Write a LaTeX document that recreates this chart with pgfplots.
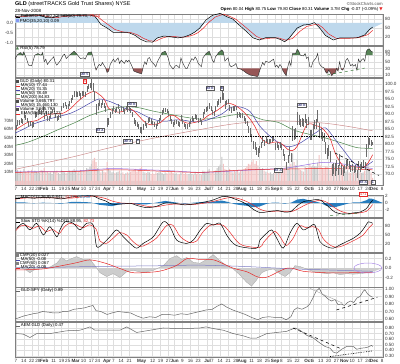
\documentclass[border=0pt]{standalone}
\usepackage{fontspec}
\setmainfont{Liberation Sans}
\newfontfamily\dejavu{DejaVu Sans}
\usepackage{pgfplots}
\usepackage{pgfplotstable}
\pgfplotsset{compat=1.18}
\usepgfplotslibrary{fillbetween}

\definecolor{scred}{RGB}{230,40,40}
\definecolor{scblue}{RGB}{70,70,170}
\definecolor{scgreen}{RGB}{70,130,70}
\definecolor{scpink}{RGB}{205,140,140}
\definecolor{volup}{RGB}{200,200,200}
\definecolor{voldn}{RGB}{242,195,195}
\definecolor{volpurp}{RGB}{150,110,225}
\definecolor{areablue}{RGB}{190,216,236}
\definecolor{macdblue}{RGB}{40,125,190}
\definecolor{rsigreen}{RGB}{85,130,85}
\definecolor{rsired}{RGB}{150,85,85}
\definecolor{cmfgray}{RGB}{205,205,205}

\pgfplotstableread{
i c e vu vd
2 85.2 0.8 0 9
3 85.4 0.8 11 0
4 87.0 0.9 13 0
5 87.2 0.8 10 0
6 87.8 0.8 12 0
7 87.6 0.8 0 9
8 89.6 1.0 14 0
9 88.9 0.8 0 11
10 88.0 0.8 0 10
11 86.6 0.9 0 12
12 86.8 0.8 9 0
13 86.4 1.0 0 13
14 86.4 0.8 0 10
15 89.6 0.9 12 0
16 89.9 0.8 11 0
17 90.5 0.8 9 0
18 90.7 0.8 10 0
19 90.5 0.8 0 13
20 91.7 0.9 12 0
21 89.2 1.0 0 15
22 90.2 0.8 10 0
23 88.4 0.8 0 11
24 88.5 0.8 9 0
25 89.6 0.8 10 0
26 91.0 0.8 8 0
27 91.3 0.8 11 0
28 89.6 0.8 0 10
29 88.5 0.8 0 12
30 88.9 0.8 9 0
31 89.6 0.8 8 0
32 91.8 0.9 13 0
33 92.8 0.8 11 0
34 93.3 0.8 10 0
35 92.3 0.8 0 9
36 92.5 0.8 10 0
37 93.5 0.8 12 0
38 94.4 0.8 11 0
39 95.5 0.9 12 0
40 96.6 0.9 14 0
41 96.7 0.9 12 0
42 96.4 0.8 0 10
43 96.9 0.8 11 0
44 96.0 0.9 0 13
45 96.8 0.8 12 0
46 96.8 0.8 0 11
47 96.4 0.8 0 12
48 98.4 1.0 15 0
49 99.1 0.9 14 0
50 99.5 0.9 16 0
51 99.7 1.8 20 0
52 98.7 1.5 0 24
53 95.9 1.6 0 27
54 91.6 1.8 0 22
55 92.6 1.2 15 0
56 93.5 1.0 12 0
57 92.8 0.9 0 10
58 93.9 0.9 12 0
59 92.9 0.9 0 11
60 91.5 1.0 0 10
61 87.1 1.6 0 22
62 87.4 1.2 14 0
63 89.5 1.0 12 0
64 90.8 0.9 10 0
65 91.8 0.8 11 0
66 91.0 0.8 0 9
67 91.6 0.8 10 0
68 92.6 0.8 11 0
69 90.8 0.9 0 12
70 91.9 0.8 9 0
71 91.6 0.8 0 10
72 90.9 0.8 0 8
73 92.0 0.8 9 0
74 91.5 0.8 0 10
75 91.9 0.8 9 0
76 91.1 0.8 0 11
77 89.9 0.9 0 12
78 87.6 1.1 0 13
79 87.0 0.9 0 14
80 86.6 0.8 0 11
81 85.9 0.8 0 12
82 84.5 1.0 0 15
83 84.4 1.1 0 17
84 85.7 0.9 11 0
85 86.9 0.9 10 0
86 86.1 0.8 0 9
87 87.9 0.9 11 0
88 88.2 0.8 10 0
89 87.5 0.8 0 8
90 87.0 0.8 0 9
91 86.6 0.8 0 8
92 85.8 0.8 0 10
93 86.8 0.8 9 0
94 87.8 0.8 10 0
95 88.9 0.8 11 0
96 90.4 0.9 9 0
97 91.1 0.8 8 0
98 91.3 0.8 10 0
99 91.0 0.8 0 9
100 90.2 0.8 0 8
101 88.5 0.9 0 10
102 87.4 0.8 0 11
103 86.6 0.8 0 9
104 87.1 0.8 8 0
105 87.3 0.8 9 0
106 86.7 0.8 0 7
107 86.5 0.8 0 8
108 88.6 1.0 10 0
109 87.6 0.8 0 9
110 86.3 0.8 0 8
111 85.9 0.8 0 9
112 85.9 0.8 0 7
113 86.5 0.8 8 0
114 87.6 0.8 9 0
115 88.4 0.8 8 0
116 88.0 0.8 0 7
117 89.1 0.8 10 0
118 88.7 0.8 0 8
119 87.8 0.8 0 9
120 88.0 0.8 8 0
121 87.1 0.8 0 7
122 89.6 1.0 12 0
123 90.8 0.9 11 0
124 91.4 0.8 10 0
125 91.7 0.8 12 0
126 92.6 0.9 14 0
127 91.8 0.8 0 9
128 90.6 0.8 0 10
129 90.1 0.8 0 11
130 91.8 0.9 12 0
131 93.3 0.9 15 0
132 94.0 0.9 17 0
133 94.7 0.9 19 0
134 96.2 1.4 28 0
135 95.9 1.2 0 20
136 93.0 1.2 0 14
137 93.8 0.9 13 0
138 94.1 0.9 12 0
139 91.9 1.0 0 14
140 91.3 0.9 0 11
141 91.7 0.8 10 0
142 91.7 0.8 0 12
143 92.0 0.8 11 0
144 89.8 1.0 0 13
145 89.9 0.8 10 0
146 89.4 0.8 0 12
147 89.5 0.9 13 0
148 88.4 0.9 0 12
149 87.7 0.9 0 15
150 86.8 0.9 0 17
151 84.9 1.2 0 20
152 84.0 1.2 0 19
153 81.9 1.3 0 22
154 79.6 1.4 0 25
155 79.3 1.2 0 20
156 77.6 1.3 0 23
157 77.1 1.4 0 18
158 78.1 1.1 16 0
159 79.6 1.0 13 0
160 81.3 1.1 15 0
161 80.3 1.0 0 12
162 81.6 0.9 11 0
163 80.9 0.9 0 10
164 80.9 0.8 0 9
165 81.0 0.8 10 0
166 81.6 0.8 8 0
167 81.9 0.8 9 0
168 79.2 1.2 0 15
169 79.6 0.9 12 0
170 78.8 0.9 0 11
171 79.6 0.9 10 0
172 79.0 1.0 0 12
173 77.2 1.1 0 13
174 75.4 1.2 0 15
175 72.6 1.4 0 18
176 75.0 1.4 16 0
177 77.5 1.5 17 0
178 75.6 1.5 0 20
179 83.5 2.4 32 0
180 83.2 1.8 0 22
181 83.4 1.8 18 0
182 88.5 2.2 25 0
183 88.0 1.6 0 14
184 86.9 1.4 0 13
185 87.3 1.3 12 0
186 87.0 1.3 0 11
187 88.4 1.5 16 0
188 86.9 1.5 0 15
189 87.6 1.4 14 0
190 83.0 1.8 0 20
191 82.9 1.6 0 16
192 84.8 1.8 18 0
193 86.5 1.6 17 0
194 86.7 1.6 16 0
195 89.2 2.0 21 0
196 84.5 2.4 0 30
197 83.4 1.8 0 18
198 82.5 1.6 0 15
199 82.2 1.6 0 14
200 78.5 2.0 0 17
201 76.9 1.8 0 16
202 77.8 1.7 14 0
203 75.9 1.8 0 13
204 71.2 2.0 0 18
205 71.9 1.9 20 0
206 71.5 2.2 0 16
207 72.7 1.8 15 0
208 71.3 1.8 0 12
209 74.6 2.0 18 0
210 71.3 1.8 0 14
211 70.8 1.6 0 13
212 71.6 1.4 12 0
213 73.2 1.4 11 0
214 73.8 1.3 13 0
215 73.0 1.3 0 10
216 71.8 1.3 0 9
217 72.1 1.2 11 0
218 71.6 1.2 0 10
219 71.9 1.2 12 0
220 69.9 1.4 0 9
221 72.9 1.5 14 0
222 72.0 1.3 0 11
223 72.9 1.2 9 0
224 73.2 1.3 10 0
225 72.6 1.3 0 12
226 77.9 2.2 21 0
227 80.6 1.8 18 0
228 80.9 1.2 14 0
229 80.4 1.0 0 10
230 80.3 0.5 0 3.7
}\daily

\pgfplotstableread{
x v
2 10.5
20 11
40 11.5
55 13.5
65 14.5
80 13.5
100 12
120 10
135 11
150 12.5
160 13.5
175 15
185 18
198 21.5
210 20
220 17
230 14.5
}\volma

\pgfplotstableread{
x v
2 10
20 10.5
40 11
55 12.5
65 13
80 12.5
100 11
120 10
135 11.5
150 13
160 13.5
180 14
200 14.5
215 14
230 13
}\volema

\pgfplotsset{
  panel/.style={
    scale only axis, width=368pt, xmin=2.4, xmax=236.6,
    xtick={3,8,13,17,21,27,32,36,41,46,51,55,61,65,70,75,83,90,95,100,104,109,114,119,125,128,133,138,143,147,153,158,163,168,172,177,182,189,192,197,202,207,212,217,222,227,231,236},
    xticklabels={},
    xmajorgrids, ymajorgrids,
    major grid style={draw=black!13, line width=0.3pt},
    axis line style={draw=black!50, line width=0.4pt},
    major tick length=0pt,
    yticklabel pos=right,
    ticklabel style={font=\fontsize{4.6}{5}\selectfont, text=black!80},
    yticklabel style={xshift=-1.5pt},
    /pgf/number format/assume math mode=true,
    clip mode=individual,
    set layers,
  },
  datelabels/.style={xticklabels={7,14,22,28,\textbf{Feb},11,19,25,\textbf{Mar},10,17,24,\textbf{Apr},7,14,21,\textbf{May},12,19,27,\textbf{Jun},9,16,23,\textbf{Jul},7,14,21,28,\textbf{Aug},11,18,25,\textbf{Sep},8,15,22,\textbf{Oct},6,13,20,27,\textbf{Nov},10,17,24,\textbf{Dec},8},
     xticklabel style={yshift=1.5pt}},
  leftlab/.style={scale only axis, width=368pt, xmin=2.4, xmax=236.6, xtick=\empty,
     axis line style={draw=none}, major tick length=0pt, yticklabel pos=left,
     ticklabel style={font=\fontsize{4.6}{5}\selectfont, text=black!80},
     yticklabel style={xshift=1.5pt}},
}
\tikzset{
  leg/.style={font=\fontsize{4.3}{5}\selectfont, anchor=north west, inner sep=0.6pt, align=left},
  ann/.style={draw=black!65, fill=white, font=\fontsize{3.8}{4}\selectfont, inner sep=0.7pt, text=blue!35!black},
}

\begin{document}
\begin{tikzpicture}

% header
\node[anchor=west, font=\fontsize{5.5}{6}\selectfont, inner sep=0] at (15pt,359.5pt) {\textbf{GLD} (streetTRACKS Gold Trust Shares) NYSE};
\node[anchor=west, font=\fontsize{4.5}{5}\selectfont, inner sep=0] at (15pt,353.5pt) {28-Nov-2008};
\node[anchor=east, font=\fontsize{4.3}{5}\selectfont, inner sep=0, text=black!70] at (383pt,360.5pt) {\copyright StockCharts.com};
\node[anchor=east, font=\fontsize{4.3}{5}\selectfont, inner sep=0] at (383pt,355pt) {\textbf{Open} 80.04 \textbf{High} 80.75 \textbf{Low} 79.80 \textbf{Close} 80.31 \textbf{Volume} 3.7M \textbf{Chg} -0.07 (-0.09\%) \textcolor{scred}{\dejavu ▼}};

% ---------- P1 ----------
\begin{axis}[panel, at={(15pt,319pt)}, anchor=south west, height=31pt,
  ymin=-6.7, ymax=96.7, ytick={20,50,80}]
\addplot[name path=pmo, draw=none, smooth] coordinates {(2,86)(10,90)(18,91)(22,86)(26,85)(30,88)(40,91)(50,92)(53,90)(55,80)(57,66)(61,52)(65,40)(70,37)(75,35)(79,27)(82,17)(86,8)(90,7)(93,16)(97,22)(100,22)(106,18)(110,20)(114,27)(117,36)(120,48)(124,72)(128,88)(133,95)(137,88)(141,79)(145,62)(150,40)(154,22)(158,14)(162,18)(168,18)(172,12)(174,8)(177,17)(182,45)(186,57)(190,60)(193,65)(196,52)(200,28)(205,14)(209,17)(215,18)(220,18)(225,26)(228,42)(230,50)};
\addplot[name path=pmoz, draw=none] coordinates {(2.4,66.7) (236.6,66.7)};
\addplot[fill=areablue, draw=none] fill between[of=pmo and pmoz];
\addplot[scred, line width=0.5pt] coordinates {(2,86)(12,90)(20,92)(24,87)(28,84)(33,88)(42,92)(52,93)(55,88)(58,75)(62,60)(66,45)(71,37)(76,35)(80,28)(84,16)(88,7)(92,6)(95,14)(99,21)(103,22)(108,19)(112,21)(116,27)(119,35)(122,48)(126,70)(130,87)(135,96)(139,89)(143,79)(147,62)(152,40)(156,22)(160,13)(165,16)(170,17)(175,9)(179,15)(184,40)(188,55)(192,60)(195,63)(198,52)(202,30)(207,15)(211,15)(217,16)(222,19)(227,28)(230,42)};
\addplot[black, line width=0.5pt] coordinates {(2,88)(10,92)(18,93)(22,85)(26,84)(30,90)(40,93)(50,93)(53,90)(55,77)(57,62)(61,50)(65,35)(70,35)(75,34)(79,25)(82,13)(86,4)(90,3)(93,17)(97,23)(100,22)(106,17)(110,20)(114,28)(117,37)(120,50)(124,77)(128,92)(133,99)(137,88)(141,80)(145,60)(150,37)(154,17)(158,10)(162,18)(168,18)(172,10)(174,4)(177,17)(182,50)(186,60)(190,62)(193,68)(196,52)(200,25)(205,10)(209,17)(215,17)(220,17)(225,27)(228,45)(230,53)};
\node[leg] at (rel axis cs:0,1) {\textcolor{black}{\rule[0.6pt]{4pt}{0.5pt}} Full STO \%K(60,20) \%D(10) 79.73, \textcolor{scred}{79.24}\\[-0.5pt]\textcolor{areablue!70!blue}{\rule{3pt}{3pt}} PMO(35,20,10) 0.09};
\end{axis}
\begin{axis}[leftlab, at={(15pt,319pt)}, anchor=south west, height=31pt,
  ymin=-1.13, ymax=0.46, ytick={-1,-0.5,0,0.5}, yticklabels={-1.0,-0.5,0.0,0.5}]
\addplot[draw=none] coordinates {(3,0)};
\end{axis}

% ---------- P2 RSI ----------
\begin{axis}[panel, at={(15pt,287pt)}, anchor=south west, height=31pt,
  ymin=4, ymax=98, ytick={10,30,50,70,80}, unbounded coords=jump]
\addplot[fill=rsigreen, draw=none] coordinates {(3.76,70)(4,72)(6,78)(7,70) (7.01,nan) (7,70)(8,80)(8.8,70) (9,nan) (15,70)(17,75)(19,70) (19.5,nan) (19,70)(20,78)(20.3,70) (21,nan) (33,70)(34,73)(34.2,70) (35,nan) (37,70)(39,78)(40,82)(42,72)(42.3,70) (43,nan) (48.2,70)(49,78)(51,80)(51.67,70) (52,nan) (95.2,70)(96,78)(98,82)(99,72)(99.17,70) (100,nan) (123.2,70)(124,75)(126,82)(127,70) (128,nan) (130.8,70)(132,78)(134,86)(135,80)(135.36,70) (136,nan) (178.86,70)(179,75)(181,75)(182,88)(183,82)(184,70) (185,nan) (186.29,70)(187,75)(187.33,70) (188,nan) (194.6,70)(195,75)(195.17,70) (196,nan) (225.6,70)(226,82)(227,88)(228,89)(229,82)(230,80)(230,70)};
\addplot[fill=rsired, draw=none] coordinates {(53.7,30)(54,25)(54.5,30) (55,nan) (60.14,30)(61,18)(62,22)(62.4,30) (63,nan) (77.38,30)(78,22)(80,18)(82,15)(83,14)(83.76,30) (84,nan) (102.67,30)(103,28)(103.29,30) (104,nan) (144,30)(146,28)(148,22)(150,15)(152,10)(154,8)(156,6)(157,6)(158,22)(158.6,30) (159,nan) (172.38,30)(173,22)(174,15)(175,8)(175.81,30) (176,nan) (199.17,30)(200,20)(201,15)(202,25)(203,18)(204,8)(205,15)(206,14)(207,30)(208,22)(208.29,30) (209,nan) (209.9,30)(210,28)(211,25)(211.5,30) (212,nan) (219.7,30)(220,25)(220.15,30)};
\addplot[black!80, line width=0.45pt] coordinates {(2,55)(4,72)(6,78)(7,70)(8,80)(10,55)(11,40)(13,38)(15,70)(17,75)(19,70)(20,78)(21,50)(22,58)(23,42)(25,55)(27,65)(28,48)(29,40)(31,52)(33,70)(34,73)(35,60)(37,70)(39,78)(40,82)(42,72)(44,60)(46,62)(47,58)(49,78)(51,80)(52,65)(53,42)(54,25)(55,35)(56,42)(57,38)(58,48)(60,32)(61,18)(62,22)(63,42)(65,58)(66,50)(68,62)(69,45)(70,55)(72,45)(73,55)(74,50)(75,55)(76,45)(77,35)(78,22)(80,18)(82,15)(83,14)(84,35)(85,50)(86,42)(87,60)(88,63)(89,52)(91,42)(92,35)(93,50)(95,68)(96,78)(98,82)(99,72)(100,60)(101,40)(103,28)(104,35)(105,40)(107,32)(108,62)(109,48)(111,30)(112,30)(113,42)(115,60)(116,55)(117,65)(118,58)(119,45)(121,35)(122,62)(124,75)(126,82)(127,70)(128,55)(129,48)(130,65)(132,78)(134,86)(135,80)(136,52)(137,58)(138,62)(139,40)(140,35)(142,40)(143,45)(144,30)(146,28)(148,22)(150,15)(152,10)(154,8)(156,6)(157,6)(158,22)(160,48)(161,40)(162,52)(164,48)(166,55)(167,58)(168,35)(169,40)(170,32)(171,42)(172,35)(173,22)(174,15)(175,8)(176,35)(177,52)(178,38)(179,75)(181,75)(182,88)(183,82)(184,70)(186,68)(187,75)(188,60)(189,65)(190,35)(191,34)(192,50)(194,62)(195,75)(196,45)(197,38)(198,34)(199,32)(200,20)(201,15)(202,25)(203,18)(204,8)(205,15)(206,14)(207,30)(208,22)(209,50)(210,28)(211,25)(212,35)(213,55)(214,60)(215,50)(216,38)(217,42)(218,37)(219,42)(220,25)(221,58)(222,48)(223,56)(224,60)(225,52)(226,82)(227,88)(228,89)(229,82)(230,80)};
\addplot[scgreen, dashed, line width=0.5pt] coordinates {(201,10) (225,31)};
\node[leg] at (rel axis cs:0,1) {\textcolor{rsigreen}{\dejavu ▲} RSI(5) 78.79};
\end{axis}

% ---------- P3 main ----------
\begin{axis}[panel, datelabels, at={(15pt,179pt)}, anchor=south west, height=107pt,
  ymin=66.33, ymax=102, ytick={70,72.5,75,77.5,80,82.5,85,87.5,90,92.5,95,97.5,100},
  yticklabels={70.0,72.5,75.0,77.5,80.0,82.5,85.0,87.5,90.0,92.5,95.0,97.5,100.0}]
\addplot[ybar, bar width=1.05pt, bar shift=0pt, fill=volup, draw=none] table[x=i, y expr=67.67+0.2867*\thisrow{vu}] {\daily};
\addplot[ybar, bar width=1.05pt, bar shift=0pt, fill=voldn, draw=none] table[x=i, y expr=67.67+0.2867*\thisrow{vd}] {\daily};
\addplot[volpurp, line width=0.5pt, smooth] table[x=x, y expr=67.67+0.2867*\thisrow{v}] {\volma};
\addplot[scred, line width=0.5pt, smooth] table[x=x, y expr=67.67+0.2867*\thisrow{v}] {\volema};
\addplot[scpink, line width=0.5pt, smooth] coordinates {(2,71.5)(20,73.5)(40,75.8)(60,78.4)(80,80.8)(100,82.9)(120,84.8)(140,86.6)(160,87.6)(180,87.6)(200,86.9)(215,85.8)(230,84.4)};
\addplot[scgreen, line width=0.5pt, smooth] coordinates {(2,79.5)(10,80.5)(20,82.5)(30,84.8)(40,87.0)(50,89.5)(60,91.2)(70,92.3)(80,92.2)(90,91.0)(100,90.0)(110,89.0)(120,88.3)(130,88.6)(140,89.6)(150,89.9)(160,88.1)(170,87.2)(180,84.6)(190,83.2)(200,82.0)(210,80.4)(220,78.8)(230,78.5)};
\addplot[scblue, line width=0.5pt, smooth] coordinates {(2,83.5)(8,85.0)(14,86.6)(20,87.7)(26,88.6)(32,89.4)(38,90.3)(44,91.8)(50,93.6)(56,95.0)(62,94.3)(68,93.0)(74,91.5)(80,90.8)(86,89.2)(92,88.0)(98,87.6)(104,88.0)(110,87.9)(116,87.4)(122,87.6)(128,88.6)(134,90.0)(140,92.2)(146,92.3)(152,90.8)(158,86.1)(164,82.9)(170,80.5)(176,79.1)(182,79.8)(188,81.7)(194,83.8)(200,85.4)(206,81.6)(212,77.6)(218,73.7)(224,72.3)(230,74.2)};
\addplot[scred, line width=0.55pt, smooth] coordinates {(2,84.6)(5,85.5)(8,86.5)(11,87.3)(14,87.6)(17,88.0)(20,89.0)(23,89.7)(26,90.0)(29,90.1)(32,90.1)(35,90.8)(38,91.9)(41,93.5)(44,94.9)(47,96.2)(50,97.1)(53,97.5)(56,96.5)(59,95.1)(62,91.9)(65,91.1)(68,90.6)(71,90.9)(74,91.6)(77,91.4)(80,90.0)(83,88.3)(86,86.9)(89,86.4)(92,86.6)(95,87.1)(98,88.6)(101,89.5)(104,89.4)(107,88.2)(110,87.3)(113,86.9)(116,87.1)(119,87.5)(122,88.1)(125,89.4)(128,90.2)(131,91.2)(134,92.3)(137,93.4)(140,93.4)(143,92.7)(146,91.6)(149,90.1)(152,88.3)(155,85.9)(158,82.7)(161,80.9)(164,80.2)(167,80.6)(170,80.6)(173,79.7)(176,78.2)(179,77.8)(182,79.2)(185,82.9)(188,86.3)(191,86.7)(194,86.1)(197,85.6)(200,84.1)(203,81.8)(206,77.2)(209,74.2)(212,72.3)(215,72.4)(218,72.4)(221,72.2)(224,72.1)(227,73.6)(230,76.4)};
\addplot[draw=none, mark=none, error bars/.cd, y dir=both, y explicit, error mark=none,
  error bar style={draw=black!58, line width=0.3pt, solid}] table[x=i, y=c, y error=e] {\daily};
\addplot[black, densely dotted, line width=0.7pt] coordinates {(2.4,82.6) (236.6,82.6)};
\addplot[black, dashed, line width=0.55pt] coordinates {(206,77) (234,69.5)};
\node[leg] at (rel axis cs:0,0.99) {\textcolor{black!70}{\rule{3pt}{3pt}} GLD (Daily) 80.31\\[-1pt]
\textcolor{scred}{\rule[0.6pt]{4pt}{0.5pt}} MA(10) 77.44\\[-1pt]
\textcolor{scblue}{\rule[0.6pt]{4pt}{0.5pt}} MA(20) 74.35\\[-1pt]
\textcolor{scgreen}{\rule[0.6pt]{4pt}{0.5pt}} MA(50) 78.49\\[-1pt]
\textcolor{scpink}{\rule[0.6pt]{4pt}{0.5pt}} MA(200) 84.83\\[-1pt]
\textcolor{black!70}{\rule{3pt}{3pt}} Volume 3,665,797\\[-1pt]
\textcolor{volpurp}{\rule[0.6pt]{4pt}{0.5pt}} MA(50) 15,460,130\\[-1pt]
\textcolor{black!70}{\rule{3pt}{3pt}} Volume 3,665,797\\[-1pt]
\textcolor{scred}{\rule[0.6pt]{4pt}{0.5pt}} EMA(50) 15,519,123};
\node[ann] at (axis cs:46.9,103.4) {alt 5};
\node[ann, text=scred, draw=scred] at (axis cs:46.9,101) {5};
\node[ann] at (axis cs:76.8,93.3) {alt b};
\node[ann] at (axis cs:56.5,84.7) {alt a};
\node[ann] at (axis cs:74.3,81) {alt a};
\node[ann] at (axis cs:80.7,81) {c};
\node[ann] at (axis cs:126.5,98.7) {alt b};
\node[ann] at (axis cs:134.1,98.7) {b};
\node[ann] at (axis cs:185,93) {alt b};
\node[ann] at (axis cs:169.8,71.3) {alt a};
\node[ann] at (axis cs:223.9,67.2) {alt a};
\node[ann] at (axis cs:230.2,67.2) {1};
\end{axis}
\begin{axis}[leftlab, at={(15pt,179pt)}, anchor=south west, height=107pt,
  ymin=-4.65, ymax=119.8, ytick={10,20,30,40,50,60,70}, yticklabels={10M,20M,30M,40M,50M,60M,70M}]
\addplot[draw=none] coordinates {(3,0)};
\end{axis}

% ---------- P4 MACD ----------
\begin{axis}[panel, at={(15pt,147pt)}, anchor=south west, height=22pt,
  ymin=-4.0, ymax=2.3, ytick={-2,0,2}]
\addplot[name path=hist, draw=none] coordinates {(2,0.2)(8,0.2)(14,-0.1)(20,0.1)(26,0)(32,-0.2)(38,0.3)(44,0.3)(50,0.2)(53,-0.1)(56,-0.5)(60,-0.7)(64,-0.9)(70,-0.3)(76,0)(80,-0.4)(86,-0.4)(92,0.1)(98,0.6)(104,0.2)(110,-0.2)(116,0.1)(122,0.3)(128,0.4)(134,0.7)(138,0.3)(142,-0.3)(146,-0.6)(150,-0.8)(154,-1.2)(158,-1.0)(162,-0.3)(166,0.1)(170,0.1)(174,-0.2)(178,0.1)(182,1.0)(186,1.2)(190,0.7)(194,0.4)(197,0)(200,-0.7)(203,-1.1)(206,-1.2)(210,-0.7)(214,-0.2)(218,0.2)(222,0.2)(226,0.8)(228,1.3)(230,1.2)};
\addplot[name path=z0, draw=none] coordinates {(2.4,0) (236.6,0)};
\addplot[fill=macdblue, draw=none] fill between[of=hist and z0];
\addplot[scred, line width=0.5pt, smooth] coordinates {(2,1.1)(8,1.4)(14,1.5)(20,1.5)(26,1.5)(32,1.4)(38,1.4)(44,1.7)(50,1.9)(53,2.0)(56,1.7)(60,1.3)(64,0.6)(70,0.0)(76,-0.1)(80,-0.3)(86,-0.9)(92,-1.1)(98,-0.6)(104,-0.3)(110,-0.3)(116,-0.4)(122,-0.1)(128,0.4)(134,1.1)(138,1.5)(142,1.5)(146,1.1)(150,0.4)(154,-0.6)(158,-1.7)(162,-2.3)(166,-2.4)(170,-2.3)(174,-2.4)(178,-2.5)(182,-1.8)(186,-0.8)(190,0.0)(194,0.6)(197,0.8)(200,0.4)(203,-0.4)(206,-1.4)(210,-2.4)(214,-2.9)(218,-3.0)(222,-2.8)(226,-2.4)(228,-1.6)(230,-0.4)};
\addplot[black, line width=0.5pt, smooth] coordinates {(2,1.3)(8,1.6)(14,1.4)(20,1.6)(26,1.5)(32,1.2)(38,1.7)(44,2.0)(50,2.1)(53,1.9)(56,1.2)(60,0.6)(64,-0.3)(70,-0.3)(76,-0.1)(80,-0.7)(86,-1.3)(92,-1.0)(98,0.0)(104,-0.1)(110,-0.5)(116,-0.3)(122,0.2)(128,0.8)(134,1.8)(138,1.8)(142,1.2)(146,0.5)(150,-0.4)(154,-1.8)(158,-2.7)(162,-2.6)(166,-2.3)(170,-2.2)(174,-2.6)(178,-2.4)(182,-0.8)(186,0.4)(190,0.7)(194,1.0)(197,0.8)(200,-0.3)(203,-1.5)(206,-2.6)(210,-3.1)(214,-3.1)(218,-2.8)(222,-2.6)(226,-1.6)(228,-0.3)(230,0.8)};
\addplot[scgreen, dashed, line width=0.5pt] coordinates {(203,-3.6) (222,-2.9)};
\node[leg] at (rel axis cs:0,1.0) {\textcolor{black}{\rule[0.6pt]{4pt}{0.5pt}} MACD(12,26,9) 0.841, \textcolor{scred}{-0.376}, \textcolor{macdblue}{1.218}};
\node[ann, text=scred, draw=scred] at (axis cs:224,2.4) {4?1};
\end{axis}

% ---------- P5 Slow STO ----------
\begin{axis}[panel, at={(15pt,112pt)}, anchor=south west, height=34pt,
  ymin=-6.7, ymax=106.7, ytick={20,50,80}]
\addplot[scred, line width=0.5pt, smooth] coordinates {(3,65)(6,80)(9.5,82)(13.5,72)(18,80)(22,62)(26.5,68)(30.5,55)(33,72)(36.5,88)(41.5,84)(45.5,74)(50,84)(54,70)(56.5,30)(60.5,22)(65,40)(69,58)(73.5,50)(77.5,28)(82,12)(86,18)(92.5,40)(99,82)(103,82)(107.5,45)(113.5,25)(118,30)(122,60)(126.5,82)(131,85)(135,82)(139,60)(143.5,30)(147.5,15)(158,8)(160.5,25)(164.5,48)(168,62)(171,45)(175,15)(179.5,40)(183.5,80)(188,74)(192,78)(195.5,68)(198.5,38)(203,16)(207,9)(211,14)(215.5,25)(219.7,36)(224,50)(227,70)(230,86)};
\addplot[black, line width=0.5pt, smooth] coordinates {(3.4,72)(7.7,89)(11.9,67)(16.2,89)(20.4,50)(24.6,78)(28.9,44)(31,67)(34.2,94)(39.5,89)(43.7,67)(48,89)(52.2,83)(54.4,11)(58.6,22)(62.8,44)(67.1,67)(71.3,44)(75.6,22)(79.8,6)(84,22)(90.4,44)(96.8,94)(101,78)(105.3,33)(111.7,22)(115.9,33)(120.1,65)(124.4,89)(128.6,83)(132.9,89)(137.1,50)(141.3,22)(145.6,11)(156.2,6)(158.3,33)(162.6,56)(165.8,67)(169,39)(173.1,6)(177.4,56)(181.7,89)(185.9,67)(190.1,78)(193.3,83)(196.5,28)(200.8,11)(205,6)(209.2,17)(213.5,28)(217.7,39)(222,56)(225.2,78)(227.3,94)(230,89)};
\node[leg] at (rel axis cs:0,0.97) {\textcolor{black}{\rule[0.6pt]{4pt}{0.5pt}} Slow STO \%K(14) \%D(3) 88.95, \textcolor{scred}{82.73}};
\end{axis}

% ---------- P6 CMF ----------
\begin{axis}[panel, at={(15pt,77pt)}, anchor=south west, height=34pt,
  ymin=-0.4, ymax=0.316, ytick={-0.2,0,0.2}, yticklabels={-0.2,0.0,0.2}]
\addplot[name path=cmf, draw=black!35, line width=0.3pt] coordinates {(1,0.0)(5.5,0.02)(9.8,-0.05)(11.9,-0.1)(14,-0.05)(18.3,0.0)(24.6,0.02)(28.9,0.1)(32,0.22)(35.3,0.15)(38.5,0.2)(41.6,0.24)(45.8,0.18)(50.1,0.18)(53.3,0.05)(56.5,-0.1)(60.7,-0.18)(64.9,-0.12)(69.2,-0.2)(73.5,-0.08)(77.7,-0.05)(84,-0.1)(90.4,-0.05)(96.8,0.05)(101,0.2)(105.3,0.26)(108.5,0.18)(111.7,0.22)(115.9,0.12)(120.1,0.1)(124.4,0.18)(128.6,0.28)(132.9,0.15)(137.1,0.05)(141.3,-0.02)(145.6,-0.15)(149.8,-0.3)(153,-0.38)(156.2,-0.25)(159.4,-0.1)(162.6,-0.05)(166.8,-0.02)(171,-0.12)(174.2,-0.18)(177.4,-0.1)(180.6,0.05)(183.8,0.03)(188,-0.02)(192.3,-0.08)(196.5,-0.1)(200.8,-0.12)(205,-0.1)(209.2,-0.14)(213.5,-0.12)(217.7,-0.13)(222,-0.12)(226.2,-0.1)(230,-0.08)};
\addplot[name path=cz, draw=none] coordinates {(1,0) (236.6,0)};
\addplot[fill=cmfgray, draw=none] fill between[of=cmf and cz];
\addplot[scblue!70!white, line width=0.5pt, smooth] coordinates {(2,0.0)(50,0.03)(100,0.05)(120,0.06)(150,0.03)(180,-0.02)(200,-0.04)(230,-0.07)};
\addplot[scred, line width=0.5pt, smooth] coordinates {(2,-0.04)(20,-0.02)(40,0.1)(50,0.17)(60,0.1)(70,-0.02)(78,-0.1)(94,-0.07)(105,0.05)(112,0.2)(120,0.18)(129,0.17)(141,0.0)(150,-0.08)(157,-0.19)(163,-0.19)(176,0.0)(186,-0.07)(200,-0.1)(215,-0.1)(230,-0.09)};
\draw[volpurp!80, line width=0.5pt] (axis cs:227,0.0) ellipse [x radius=14pt, y radius=5pt];
\node[leg] at (rel axis cs:0,1) {\textcolor{black!50}{\rule{3pt}{3pt}} CMF(20) 0.027\\[-1pt]\textcolor{scblue}{\rule[0.6pt]{4pt}{0.5pt}} MA(50) -0.08\\[-1pt]\textcolor{black!50}{\rule{3pt}{3pt}} CMF(60) 0.067\\[-1pt]\textcolor{scred}{\rule[0.6pt]{4pt}{0.5pt}} MA(20) -0.09};
\end{axis}

% ---------- P7 GLD:SPY ----------
\begin{axis}[panel, at={(15pt,43pt)}, anchor=south west, height=34pt,
  ymin=0.573, ymax=1.027, ytick={0.6,0.7,0.8,0.9,1.0}, yticklabels={0.60,0.70,0.80,0.90,1.00}]
\addplot[black!60, line width=0.5pt] coordinates {(2,0.60)(4,0.61)(8,0.64)(12,0.66)(14,0.67)(17,0.68)(20,0.70)(24,0.69)(27,0.68)(30,0.68)(33,0.70)(36,0.70)(40,0.73)(44,0.74)(47,0.75)(50,0.77)(52,0.78)(54,0.71)(57,0.70)(61,0.66)(64,0.68)(68,0.70)(72,0.69)(76,0.68)(80,0.64)(84,0.61)(88,0.63)(92,0.62)(96,0.66)(100,0.66)(104,0.65)(108,0.67)(112,0.66)(116,0.68)(120,0.70)(124,0.72)(128,0.73)(131,0.77)(134,0.80)(137,0.76)(141,0.72)(145,0.69)(149,0.66)(153,0.62)(157,0.59)(160,0.62)(164,0.63)(168,0.62)(172,0.62)(175,0.59)(178,0.63)(180,0.72)(182,0.75)(185,0.73)(188,0.76)(190,0.80)(192,0.88)(194,0.97)(196,1.01)(198,0.93)(200,0.90)(202,0.86)(204,0.84)(206,0.86)(208,0.79)(210,0.80)(212,0.78)(214,0.82)(216,0.84)(218,0.82)(220,0.88)(222,0.90)(224,0.97)(225,0.99)(227,0.93)(229,0.90)(230,0.89)};
\addplot[black!35, line width=0.4pt] coordinates {(190,1.01) (211,0.81)};
\addplot[black, dashed, line width=0.55pt] coordinates {(207,0.72) (233,0.89)};
\node[leg] at (rel axis cs:0,0.97) {\textcolor{black!60}{\rule[0.6pt]{4pt}{0.5pt}} GLD:SPY (Daily) 0.89};
\end{axis}

% ---------- P8 AEM:GLD ----------
\begin{axis}[panel, datelabels, at={(15pt,7pt)}, anchor=south west, height=35pt,
  ymin=0.282, ymax=0.907, ytick={0.3,0.4,0.5,0.6,0.7,0.8}, yticklabels={0.30,0.40,0.50,0.60,0.70,0.80}]
\addplot[black!60, line width=0.5pt] coordinates {(2,0.71)(3.4,0.70)(7.7,0.69)(11.9,0.63)(16.2,0.70)(24.6,0.70)(35.3,0.75)(43.7,0.76)(50.1,0.82)(53.3,0.76)(62.8,0.76)(69.2,0.76)(73.5,0.82)(79.8,0.72)(88.3,0.76)(96.8,0.80)(105.3,0.79)(111.7,0.79)(120.1,0.80)(124,0.82)(128.6,0.79)(135,0.76)(141.3,0.70)(147.7,0.66)(152,0.62)(156.2,0.62)(162.6,0.70)(169,0.72)(175.3,0.74)(180.6,0.80)(183.8,0.76)(188,0.67)(192.3,0.62)(196.5,0.53)(199.7,0.47)(202.9,0.44)(205,0.37)(207.1,0.35)(210.3,0.42)(213.5,0.47)(217.7,0.47)(219.9,0.42)(223,0.44)(226.2,0.45)(229.4,0.49)(230,0.47)};
\addplot[black, dashed, line width=0.55pt] coordinates {(179.3,0.80) (209,0.44)};
\addplot[black, densely dotted, line width=0.65pt] coordinates {(203,0.29) (229.6,0.39)};
\node[leg] at (rel axis cs:0,0.97) {\textcolor{black!60}{\rule[0.6pt]{4pt}{0.5pt}} AEM:GLD (Daily) 0.47};
\end{axis}

\pgfresetboundingbox
\path[use as bounding box] (0,0) rectangle (400pt,364pt);
\end{tikzpicture}
\end{document}
